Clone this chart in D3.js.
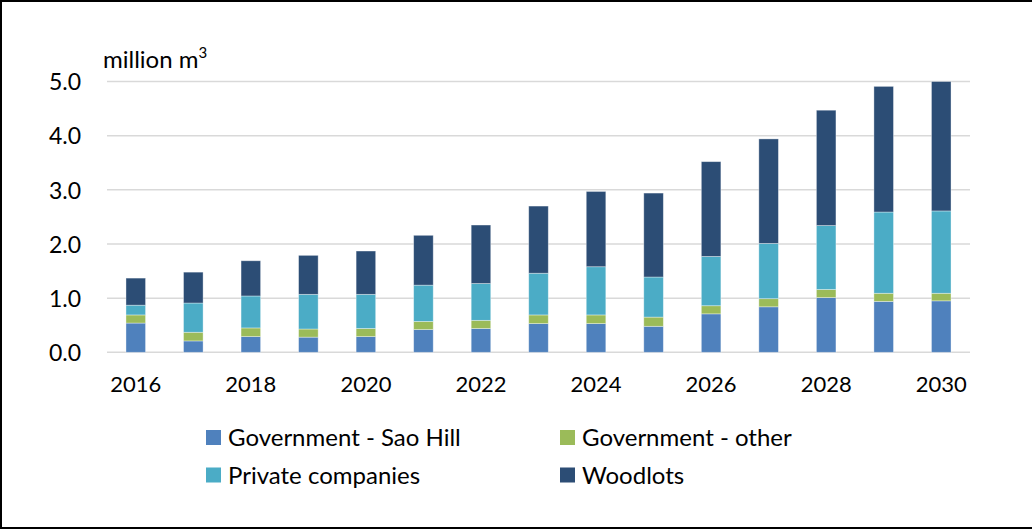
<!DOCTYPE html>
<html>
<head>
<meta charset="utf-8">
<script src="https://cdn.jsdelivr.net/npm/d3@7"></script>
<style>
  html, body { margin: 0; padding: 0; background: #fff; }
  svg { display: block; font-family: Lato, "Open Sans", sans-serif; }
</style>
</head>
<body>
<svg id="chart" width="1032" height="529"></svg>
<script>
// Projected wood supply by source, million m³
const years = [2016, 2017, 2018, 2019, 2020, 2021, 2022, 2023, 2024, 2025, 2026, 2027, 2028, 2029, 2030];
const saoHill  = [0.54, 0.21, 0.29, 0.28, 0.29, 0.42, 0.44, 0.53, 0.53, 0.48, 0.71, 0.84, 1.01, 0.94, 0.95];
const govOther = [0.15, 0.16, 0.16, 0.15, 0.15, 0.15, 0.15, 0.16, 0.16, 0.17, 0.15, 0.15, 0.15, 0.15, 0.14];
const privateCo = [0.18, 0.54, 0.59, 0.64, 0.63, 0.67, 0.68, 0.77, 0.89, 0.74, 0.91, 1.02, 1.18, 1.50, 1.52];
const woodlots = [0.50, 0.57, 0.65, 0.72, 0.80, 0.92, 1.08, 1.24, 1.39, 1.55, 1.75, 1.93, 2.13, 2.32, 2.39];
const seriesNames = ["Government - Sao Hill", "Government - other", "Private companies", "Woodlots"];
const yTicks = [0, 1, 2, 3, 4, 5];
const xTickYears = [2016, 2018, 2020, 2022, 2024, 2026, 2028, 2030];
const colors = ["#4F81BD", "#9BBB59", "#4BACC6", "#2C4D75"];

const svg = d3.select("#chart");
const W = 1032, H = 529;

// frame (top, left, bottom edges)
svg.append("path")
  .attr("d", `M1,${H} L1,1 L${W},1 M0,${H - 1} L${W},${H - 1}`)
  .attr("fill", "none").attr("stroke", "#000").attr("stroke-width", 2);

const plot = { left: 107, right: 970, top: 81.5, bottom: 352.3 };

const x = d3.scaleBand().domain(years).range([plot.left, plot.right]).paddingInner(0.66).paddingOuter(0.33);
const y = d3.scaleLinear().domain([0, 5]).range([plot.bottom, plot.top]);

// gridlines
svg.append("g").selectAll("line").data(yTicks).join("line")
  .attr("x1", plot.left).attr("x2", plot.right)
  .attr("y1", d => y(d)).attr("y2", d => y(d))
  .attr("stroke", "#D9D9D9").attr("stroke-width", 1.5);

// stacked bars
const rows = years.map((yr, i) => ({
  year: yr, s0: saoHill[i], s1: govOther[i], s2: privateCo[i], s3: woodlots[i]
}));
const stack = d3.stack().keys(["s0", "s1", "s2", "s3"]);
const layers = stack(rows);

svg.append("g").selectAll("g").data(layers).join("g")
  .attr("fill", (d, i) => colors[i])
  .selectAll("rect").data(d => d).join("rect")
  .attr("x", d => x(d.data.year))
  .attr("width", x.bandwidth())
  .attr("y", d => y(Math.min(d[1], 5)))
  .attr("height", d => y(d[0]) - y(Math.min(d[1], 5)))
  .attr("stroke", "#ffffff").attr("stroke-opacity", 0.45).attr("stroke-width", 0.8);

// y axis labels
const yAxis = d3.axisLeft(y).tickValues(yTicks).tickFormat(d3.format(".1f")).tickSize(0).tickPadding(26);
const yg = svg.append("g").attr("transform", `translate(${plot.left},0)`).call(yAxis);
yg.select(".domain").remove();
yg.selectAll("text").attr("font-size", 23).attr("fill", "#000").attr("font-family", "Lato, sans-serif").attr("dy", "0.36em");

// x axis labels
const xAxis = d3.axisBottom(x).tickValues(xTickYears).tickSize(0).tickPadding(24);
const xg = svg.append("g").attr("transform", `translate(0,${plot.bottom})`).call(xAxis);
xg.select(".domain").remove();
xg.selectAll("text").attr("font-size", 22).attr("fill", "#000").attr("font-family", "Lato, sans-serif");

// unit label
const unit = svg.append("text").attr("x", 103).attr("y", 68).attr("font-size", 24).attr("fill", "#000");
unit.append("tspan").text("million m");
unit.append("tspan").text("3").attr("font-size", 15).attr("dy", -10);

// legend
const legendPos = [
  { x: 206, y: 437.5 }, { x: 560, y: 437.5 },
  { x: 206, y: 475 }, { x: 560, y: 475 }
];
const lg = svg.append("g").selectAll("g").data(seriesNames).join("g")
  .attr("transform", (d, i) => `translate(${legendPos[i].x},${legendPos[i].y})`);
lg.append("rect").attr("x", 0).attr("y", -7.5).attr("width", 15).attr("height", 15)
  .attr("fill", (d, i) => colors[i]);
lg.append("text").attr("x", 22).attr("y", 0).attr("dy", "0.36em")
  .attr("font-size", 24).attr("fill", "#000").text(d => d);
</script>
</body>
</html>
